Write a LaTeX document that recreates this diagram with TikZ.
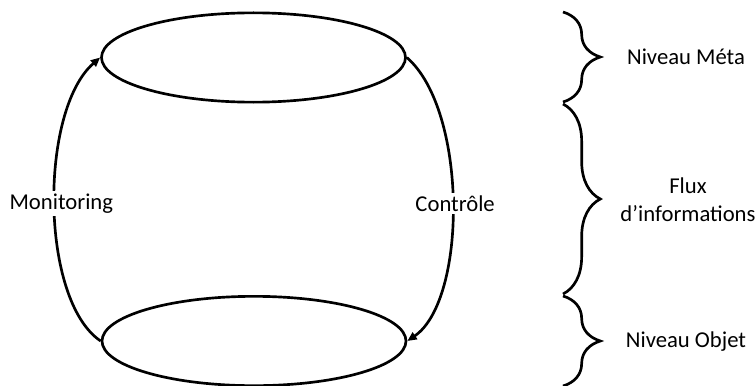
\documentclass[tikz,border=0pt]{standalone}
\usepackage{fontspec}
\setmainfont{Carlito}
\usetikzlibrary{arrows.meta,shapes.geometric,decorations.pathreplacing}

\begin{document}
\begin{tikzpicture}[x=0.75pt,y=-0.75pt,
    level/.style={ellipse,draw,line width=2pt,minimum width=228pt,minimum height=67pt},
    flow/.style={line width=2pt,-{Triangle[length=7pt,width=6pt]}},
    lbl/.style={fill=white,inner sep=2pt,font=\fontsize{17}{21}\selectfont},
    accol/.style={decorate,decoration={brace,amplitude=28pt},line width=2pt}]
  \useasboundingbox (0,0) rectangle (755,385);
  % niveaux
  \node[level] (meta) at (253.5,57.5) {};
  \node[level] (objet) at (254,341) {};
  % flux
  \draw[flow] (objet.west) .. controls +(-61,-41) and +(-61,53) .. (meta.west)
    node[lbl,pos=0.5,xshift=5pt] (monit) {Monitoring};
  \draw[flow] (meta.east) .. controls +(61,53) and +(60,-41) .. (objet.east)
    node[lbl,pos=0.5,xshift=2pt] (ctrl) {Contrôle};
  % accolades
  \foreach \i/\ya/\yb/\ym/\xt/\txt in {1/12/102/57/686/{Niveau Méta},
      2/104/294/200/688/{Flux\\d’informations},
      3/296/386/342/686/{Niveau Objet}}{
    \coordinate (h\i) at (563,\ya);
    \coordinate (b\i) at (563,\yb);
    \draw[accol] (h\i) -- (b\i);
    \node[lbl,align=center] (niv\i) at (\xt,\ym) {\txt};
  }
\end{tikzpicture}
\end{document}
